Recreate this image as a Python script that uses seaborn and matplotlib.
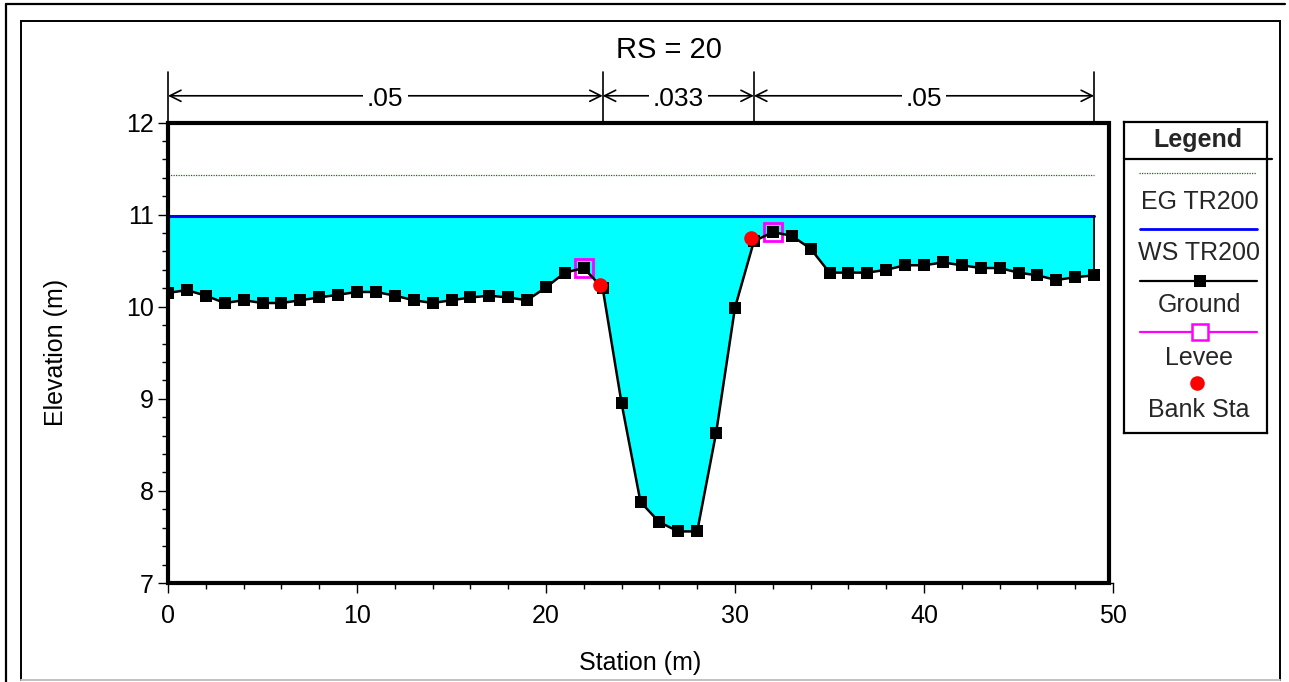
import numpy as np
import matplotlib
matplotlib.use("Agg")
import matplotlib.pyplot as plt
import matplotlib.transforms as mtransforms
from matplotlib.lines import Line2D
from matplotlib.patches import Rectangle
import seaborn as sns
import pandas as pd

# ---------------- data ----------------
stations = list(range(50))
ground = [10.15, 10.18, 10.12, 10.04, 10.07, 10.04, 10.04, 10.07, 10.10, 10.13,
          10.16, 10.16, 10.12, 10.07, 10.04, 10.07, 10.10, 10.12, 10.10, 10.07,
          10.21, 10.37, 10.42, 10.20, 8.95, 7.88, 7.66, 7.56, 7.56, 8.63,
          9.99, 10.71, 10.81, 10.77, 10.63, 10.37, 10.37, 10.37, 10.40, 10.45,
          10.45, 10.48, 10.45, 10.42, 10.42, 10.37, 10.34, 10.29, 10.32, 10.34]
ws_elev = 10.98
eg_elev = 11.43
levee_sta = [22, 32]
bank_sta = [23, 31]
n_breaks = [0, 23, 31, 49]
n_values = [".05", ".033", ".05"]
title = "RS = 20"
legend_labels = ["EG TR200", "WS TR200", "Ground", "Levee", "Bank Sta"]
xticks = [0, 10, 20, 30, 40, 50]
yticks = [7, 8, 9, 10, 11, 12]

sns.set_theme(style="white")
plt.rcParams["font.family"] = ["Liberation Sans", "DejaVu Sans"]

W, H = 1289, 682
fig = plt.figure(figsize=(W / 100, H / 100), dpi=100)
fig.patch.set_facecolor("white")

def fx(px):
    return px / W

def fy(py):
    return 1 - py / H

EG_COLOR = "#008000"

# figure frames
fig.add_artist(Line2D([fx(6), fx(1285)], [fy(4), fy(4)], color="black", lw=1.6))
fig.add_artist(Line2D([fx(6), fx(6)], [fy(4), fy(682)], color="black", lw=1.6))
fig.add_artist(Rectangle((fx(21), fy(680)), fx(1280) - fx(21), fy(21) - fy(680),
                         fill=False, edgecolor="black", lw=1.4))
fig.add_artist(Line2D([fx(21), fx(1280)], [fy(680), fy(680)], color="#c8c8c8", lw=1.4))

# main axes
ax = fig.add_axes([fx(168), fy(583), fx(1113) - fx(168), fy(122.5) - fy(583)])
ax.set_facecolor("white")
ax.set_xlim(0, 50)
ax.set_ylim(7, 12)

df = pd.DataFrame({"Station": stations, "Ground": ground})
g = np.array(ground)
s = np.array(stations)

# water area
ax.fill_between(s, g, ws_elev, where=g <= ws_elev, interpolate=True,
                color="#00ffff", lw=0, zorder=1)
# EG line
ax.plot([stations[0], stations[-1]], [eg_elev, eg_elev], color=EG_COLOR,
        lw=0.9, ls=(0, (1, 1)), zorder=2)
# WS line
ax.plot([stations[0], stations[-1]], [ws_elev, ws_elev], color="#0000ff", lw=2.2, zorder=3)
ax.plot([stations[-1], stations[-1]], [ground[-1], ws_elev], color="black", lw=1.3, zorder=3)

# levee markers
lev_y = [ground[stations.index(v)] for v in levee_sta]
ax.plot(levee_sta, lev_y, ls="", marker="s", ms=12.5, mfc="none", mec="#ff00ff",
        mew=2.0, zorder=4)

# ground
sns.lineplot(data=df, x="Station", y="Ground", ax=ax, color="black", lw=1.8,
             marker="s", markersize=9, markeredgewidth=0, sort=False,
             estimator=None, zorder=5)

# bank stations
bank_y = [ground[stations.index(v)] for v in bank_sta]
off = mtransforms.ScaledTranslation(-3 / 100, 3 / 100, fig.dpi_scale_trans)
ax.plot(bank_sta, bank_y, ls="", marker="o", ms=10.5, mfc="#ff0000", mec="#ff0000",
        mew=0, zorder=6, transform=ax.transData + off)

# thick plot box
ax.add_patch(Rectangle((0, 7), stations[-1] + 0.8, 5, fill=False, edgecolor="black",
                       lw=3.0, zorder=7, clip_on=False))

for sp in ["top", "right"]:
    ax.spines[sp].set_visible(False)
for sp in ["left", "bottom"]:
    ax.spines[sp].set_linewidth(1.0)
    ax.spines[sp].set_color("black")

ax.set_xticks(xticks)
ax.set_xticks(np.arange(0, 51, 2), minor=True)
ax.set_yticks(yticks)
ax.set_yticks(np.arange(7, 12.01, 0.2), minor=True)
ax.tick_params(axis="both", which="major", direction="out", length=7, width=1,
               color="black", labelsize=18, labelcolor="black")
ax.tick_params(axis="both", which="minor", direction="out", length=4, width=1, color="black")
ax.tick_params(axis="x", which="both", bottom=True, pad=8)
ax.tick_params(axis="y", which="both", left=True, pad=3)

ax.set_xlabel("Station (m)", fontsize=18, color="black")
ax.set_ylabel("Elevation (m)", fontsize=18, color="black")
ax.xaxis.set_label_coords(0.5, -0.148)
ax.yaxis.set_label_coords(-0.106, 0.5)
ax.grid(False)

# Manning's n dimension lines
top_y = 12.55
arr_y = 12.29
for b in n_breaks:
    ax.plot([b, b], [12, top_y], color="black", lw=1.2, clip_on=False, zorder=8)
for i, val in enumerate(n_values):
    x1, x2 = n_breaks[i], n_breaks[i + 1]
    ax.annotate("", xy=(x2, arr_y), xytext=(x1, arr_y), annotation_clip=False,
                arrowprops=dict(arrowstyle="<->", lw=1.2, color="black",
                                shrinkA=0, shrinkB=0, mutation_scale=20))
    ax.text((x1 + x2) / 2, arr_y - 0.03, val, ha="center", va="center", fontsize=19,
            color="black", clip_on=False, zorder=9,
            bbox=dict(boxstyle="square,pad=0.15", fc="white", ec="none"))

fig.text(fx(669), fy(50), title, ha="center", va="center", fontsize=21, color="black")

# legend panel
lax = fig.add_axes([fx(1124), fy(433), fx(1267) - fx(1124), fy(121.5) - fy(433)])
lax.set_xlim(1124, 1267)
lax.set_ylim(433, 121.5)
lax.set_xticks([])
lax.set_yticks([])
for sp in lax.spines.values():
    sp.set_linewidth(1.6)
    sp.set_color("black")
lax.text(1198, 140, "Legend", ha="center", va="center", fontsize=18, fontweight="bold")
lax.plot([1124, 1272], [159, 159], color="black", lw=1.6, clip_on=False)
lax.plot([1139, 1256], [173, 173], color=EG_COLOR, lw=0.9, ls=(0, (1, 1)))
lax.text(1200, 202, legend_labels[0], ha="center", va="center", fontsize=18)
lax.plot([1140, 1257], [228.5, 228.5], color="#0000ff", lw=2.0)
lax.text(1199, 253, legend_labels[1], ha="center", va="center", fontsize=18)
lax.plot([1140, 1257], [281, 281], color="black", lw=1.6)
lax.plot([1200], [281], ls="", marker="s", ms=8.5, mfc="black", mec="black", mew=0)
lax.text(1199, 305, legend_labels[2], ha="center", va="center", fontsize=18)
lax.plot([1140, 1257], [331.5, 331.5], color="#ff00ff", lw=1.6)
lax.plot([1200], [331.5], ls="", marker="s", ms=11, mfc="white", mec="#ff00ff", mew=1.8)
lax.text(1199, 358, legend_labels[3], ha="center", va="center", fontsize=18)
lax.plot([1197], [383], ls="", marker="o", ms=10.5, mfc="#ff0000", mec="#ff0000", mew=0)
lax.text(1199, 410, legend_labels[4], ha="center", va="center", fontsize=18)

fig.savefig("out.png", dpi=100, facecolor="white")
